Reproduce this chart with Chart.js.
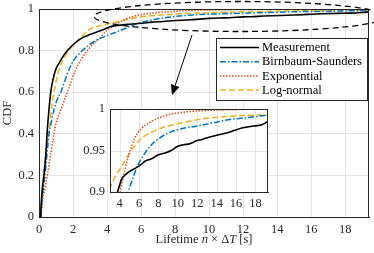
<!DOCTYPE html>
<html>
<head>
<meta charset="utf-8">
<script src="https://cdn.jsdelivr.net/npm/chart.js@4.4.0/dist/chart.umd.min.js"></script>
<style>
  html, body { margin: 0; padding: 0; background: #fff; }
  #wrap { position: relative; width: 374px; height: 253px; }
  #main { position: absolute; left: 0; top: 0; }
  #inset { position: absolute; left: 76px; top: 98px; }
</style>
</head>
<body>
<div id="wrap">
  <canvas id="main" width="374" height="253"></canvas>
  <canvas id="inset" width="196" height="116"></canvas>
</div>
<script>
// values
const measX = [0.1, 0.12, 0.2, 0.29, 0.4, 0.49, 0.58, 0.69, 0.82, 0.98, 1.18, 1.4, 1.67, 2.0, 2.35, 2.65, 2.98, 3.4, 3.8, 4.18, 4.6, 5.2, 5.8, 6.3, 6.6, 7.3, 8.0, 8.7, 9.3, 10.0, 10.6, 11.2, 12.0, 12.45, 13.2, 14.2, 15.0, 15.8, 16.6, 17.5, 18.2, 18.65, 19.0, 19.4];
const measY = [0, 0.05, 0.14, 0.2, 0.3, 0.42, 0.51, 0.6, 0.66, 0.708, 0.74, 0.77, 0.8, 0.828, 0.852, 0.866, 0.877, 0.89, 0.901, 0.915, 0.921, 0.926, 0.930, 0.934, 0.937, 0.940, 0.945, 0.947, 0.950, 0.955, 0.957, 0.958, 0.962, 0.963, 0.966, 0.969, 0.971, 0.974, 0.977, 0.979, 0.980, 0.981, 0.983, 0.986];

const bsX = [0.1, 0.2, 0.35, 0.5, 0.59, 0.69, 0.88, 1.05, 1.28, 1.5, 1.76, 2.1, 2.55, 3.0, 3.43, 4.16, 4.87, 5.4, 5.9, 6.5, 7.28, 8.0, 9.0, 10.3, 11.76, 13.5, 15.2, 17.5, 19.4];
const bsY = [0, 0.1, 0.2, 0.33, 0.4, 0.443, 0.515, 0.56, 0.6, 0.65, 0.708, 0.76, 0.8, 0.83, 0.852, 0.877, 0.9, 0.918, 0.933, 0.945, 0.957, 0.964, 0.971, 0.976, 0.979, 0.983, 0.987, 0.990, 0.993];

const expX = [0.1, 0.2, 0.35, 0.49, 0.7, 0.88, 0.98, 1.28, 1.67, 2.16, 2.5, 2.94, 3.5, 4.0, 4.5, 5.0, 5.55, 6.3, 7.28, 8.0, 9.0, 10.5, 12.45, 15.0, 19.4];
const expY = [0, 0.07, 0.14, 0.2, 0.31, 0.4, 0.443, 0.515, 0.6, 0.708, 0.76, 0.81, 0.855, 0.897, 0.925, 0.947, 0.965, 0.977, 0.985, 0.989, 0.993, 0.996, 0.998, 0.999, 1.0];

const lnX = [0.1, 0.18, 0.25, 0.4, 0.5, 0.63, 0.75, 0.88, 1.0, 1.18, 1.45, 1.76, 2.0, 2.3, 2.65, 2.98, 3.53, 4.16, 4.87, 5.3, 6.0, 6.5, 7.28, 8.5, 9.5, 10.7, 12.5, 14.2, 16.5, 19.4];
const lnY = [0, 0.08, 0.17, 0.31, 0.37, 0.44, 0.53, 0.6, 0.65, 0.708, 0.76, 0.8, 0.825, 0.85, 0.88, 0.903, 0.918, 0.93, 0.944, 0.952, 0.962, 0.967, 0.972, 0.978, 0.981, 0.984, 0.988, 0.990, 0.992, 0.993];

const seriesNames = ['Measurement', 'Birnbaum-Saunders', 'Exponential', 'Log-normal'];
const xTicks = [0, 2, 4, 6, 8, 10, 12, 14, 16, 18];
const yTicks = [0, 0.2, 0.4, 0.6, 0.8, 1];
const insetXTicks = [4, 6, 8, 10, 12, 14, 16, 18];
const insetYTicks = [0.9, 0.95, 1];

const colors = ['#000000', '#0072BD', '#D95319', '#EDB120'];
const dashes = [[], [6, 2, 1.5, 2], [1.5, 1.5], [6, 3]];
const FONT = '"Liberation Serif", "Times New Roman", serif';
const AXIS = '#262626';
const GRID = 'rgba(38,38,38,0.12)';

function pts(xs, ys) {
  return xs.map((x, i) => ({ x: x, y: ys[i] }));
}

function makeDatasets() {
  const xs = [measX, bsX, expX, lnX];
  const ys = [measY, bsY, expY, lnY];
  return seriesNames.map((name, i) => ({
    label: name,
    data: pts(xs[i], ys[i]),
    borderColor: colors[i],
    borderDash: dashes[i],
    borderWidth: i === 0 ? 1.6 : 1.5,
    pointRadius: 0,
    fill: false,
    cubicInterpolationMode: 'monotone'
  }));
}

// fixed axis sizes, no extra room for edge labels
function fixX(h) {
  return ax => { ax.height = h; ax.paddingLeft = 0; ax.paddingRight = 0; };
}
function fixY(w) {
  return ax => { ax.width = w; ax.paddingTop = 0; ax.paddingBottom = 0; };
}

// white plot box + frame, like matlab axes
const boxPlugin = {
  id: 'box',
  beforeDatasetsDraw(chart) {
    const a = chart.chartArea, c = chart.ctx;
    if (chart.options.plugins.box && chart.options.plugins.box.fill) {
      c.save();
      c.fillStyle = '#fff';
      c.fillRect(a.left, a.top, a.right - a.left, a.bottom - a.top);
      c.restore();
    }
  },
  afterDraw(chart) {
    const a = chart.chartArea, c = chart.ctx;
    c.save();
    c.strokeStyle = AXIS;
    c.lineWidth = 1;
    c.strokeRect(Math.round(a.left) + 0.5, Math.round(a.top) + 0.5,
      Math.round(a.right - a.left) - 1, Math.round(a.bottom - a.top));
    c.restore();
  }
};

// the inset's own grid, drawn on top of its white fill
const insetGrid = {
  id: 'insetGrid',
  beforeDatasetsDraw(chart) {
    const a = chart.chartArea, c = chart.ctx;
    const sx = chart.scales.x, sy = chart.scales.y;
    c.save();
    c.strokeStyle = GRID;
    c.lineWidth = 1;
    insetXTicks.forEach(v => {
      const px = Math.round(sx.getPixelForValue(v)) + 0.5;
      c.beginPath(); c.moveTo(px, a.top); c.lineTo(px, a.bottom); c.stroke();
    });
    insetYTicks.forEach(v => {
      const py = Math.round(sy.getPixelForValue(v)) + 0.5;
      c.beginPath(); c.moveTo(a.left, py); c.lineTo(a.right, py); c.stroke();
    });
    c.restore();
  }
};

const decorPlugin = {
  id: 'decor',
  afterDraw(chart) {
    const c = chart.ctx;
    c.save();
    // legend
    c.fillStyle = '#fff';
    c.fillRect(216, 38, 151, 62);
    c.strokeStyle = AXIS;
    c.lineWidth = 1;
    c.strokeRect(216.5, 38.5, 151, 62);
    chart.data.datasets.forEach((ds, i) => {
      const y = 47.5 + i * 14.2;
      c.beginPath();
      c.setLineDash(ds.borderDash);
      c.strokeStyle = ds.borderColor;
      c.lineWidth = ds.borderWidth;
      c.moveTo(220, y); c.lineTo(259, y);
      c.stroke();
      c.setLineDash([]);
      c.fillStyle = '#000';
      c.font = '12.5px ' + FONT;
      c.textBaseline = 'middle';
      c.textAlign = 'left';
      c.fillText(ds.label, 262, y + 0.5);
    });

    // dashed ellipse around the tail
    c.beginPath();
    c.setLineDash([6, 4]);
    c.strokeStyle = '#000';
    c.lineWidth = 1.3;
    c.ellipse(240, 16.5, 146, 15, 0, 0, Math.PI * 2);
    c.stroke();
    c.setLineDash([]);

    // arrow to the inset
    const x0 = 192, y0 = 35, x1 = 172, y1 = 95;
    const len = Math.hypot(x1 - x0, y1 - y0);
    const ux = (x1 - x0) / len, uy = (y1 - y0) / len;
    const bx = x1 - 10 * ux, by = y1 - 10 * uy;
    c.beginPath();
    c.lineWidth = 1;
    c.moveTo(x0, y0); c.lineTo(bx, by);
    c.stroke();
    c.beginPath();
    c.moveTo(x1, y1);
    c.lineTo(bx - 4.5 * uy, by + 4.5 * ux);
    c.lineTo(bx + 4.5 * uy, by - 4.5 * ux);
    c.closePath();
    c.fillStyle = '#000';
    c.fill();

    // axis titles
    c.fillStyle = AXIS;
    c.textBaseline = 'middle';
    c.font = '12.5px ' + FONT;
    c.save();
    c.translate(8, 113);
    c.rotate(-Math.PI / 2);
    c.textAlign = 'center';
    c.fillText('CDF', 0, 0);
    c.restore();

    const parts = [['Lifetime ', ''], ['n', 'italic '], [' \u00d7 \u0394', ''], ['T', 'italic '], [' [s]', '']];
    let total = 0;
    parts.forEach(p => { c.font = p[1] + '12.5px ' + FONT; total += c.measureText(p[0]).width; });
    let x = 204 - total / 2;
    c.textAlign = 'left';
    parts.forEach(p => {
      c.font = p[1] + '12.5px ' + FONT;
      c.fillText(p[0], x, 240);
      x += c.measureText(p[0]).width;
    });
    c.restore();
  }
};

new Chart(document.getElementById('main'), {
  type: 'line',
  data: { datasets: makeDatasets() },
  options: {
    responsive: false,
    animation: false,
    layout: { padding: { top: 9, right: 5, left: 0, bottom: 0 } },
    plugins: { legend: { display: false }, tooltip: { enabled: false } },
    scales: {
      x: {
        type: 'linear', min: 0, max: 19.4,
        afterBuildTicks: ax => { ax.ticks = xTicks.map(v => ({ value: v })); },
        afterFit: fixX(36),
        grid: { color: GRID, drawTicks: false },
        border: { color: AXIS },
        ticks: { color: AXIS, padding: 5, maxRotation: 0, font: { family: FONT, size: 12.5 }, callback: v => String(v) }
      },
      y: {
        min: 0, max: 1,
        afterBuildTicks: ax => { ax.ticks = yTicks.map(v => ({ value: v })); },
        afterFit: fixY(39),
        grid: { color: GRID, drawTicks: false },
        border: { color: AXIS },
        ticks: { color: AXIS, padding: 5, font: { family: FONT, size: 12.5 }, callback: v => String(v) }
      }
    }
  },
  plugins: [boxPlugin, decorPlugin]
});

new Chart(document.getElementById('inset'), {
  type: 'line',
  data: { datasets: makeDatasets() },
  options: {
    responsive: false,
    animation: false,
    layout: { padding: { top: 11, right: 4, left: 0, bottom: 0 } },
    plugins: { legend: { display: false }, tooltip: { enabled: false }, box: { fill: true } },
    scales: {
      x: {
        type: 'linear', min: 3, max: 19.3,
        afterBuildTicks: ax => { ax.ticks = insetXTicks.map(v => ({ value: v })); },
        afterFit: fixX(22),
        grid: { display: false, drawTicks: false },
        border: { color: AXIS },
        ticks: { color: AXIS, padding: 4, maxRotation: 0, font: { family: FONT, size: 12.5 }, callback: v => String(v) }
      },
      y: {
        min: 0.9, max: 1,
        afterBuildTicks: ax => { ax.ticks = insetYTicks.map(v => ({ value: v })); },
        afterFit: fixY(34),
        grid: { display: false, drawTicks: false },
        border: { color: AXIS },
        ticks: { color: AXIS, padding: 5, font: { family: FONT, size: 12.5 }, callback: v => String(v) }
      }
    }
  },
  plugins: [boxPlugin, insetGrid]
});
</script>
</body>
</html>
